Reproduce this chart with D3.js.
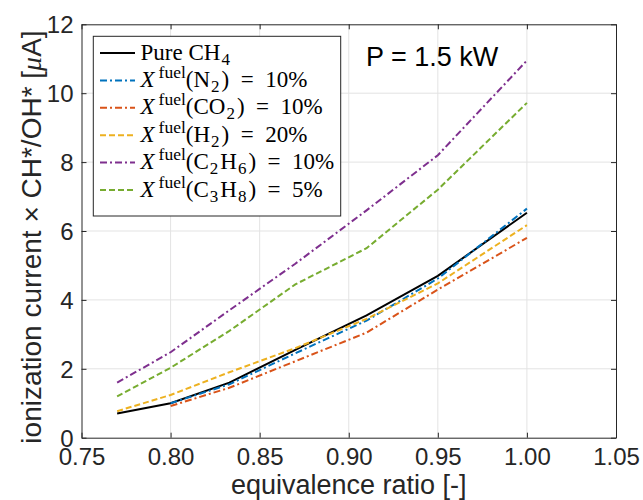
<!DOCTYPE html>
<html><head><meta charset="utf-8">
<script src="https://cdn.jsdelivr.net/npm/d3@7"></script>
<style>body{margin:0;background:#fff;} svg{display:block;}</style>
</head><body>
<svg id="c" width="643" height="500"></svg>
<script>
const xPhi   = [0.77, 0.80, 0.833, 0.87, 0.91, 0.95, 1.00];
const pureCH4 = [0.70, 1.00, 1.60, 2.55, 3.55, 4.70, 6.53];
const xN2    = [null, 1.00, 1.55, 2.45, 3.40, 4.62, 6.65];
const xCO2   = [null, 0.92, 1.45, 2.22, 3.05, 4.30, 5.80];
const xH2    = [0.77, 1.24, 1.90, 2.60, 3.45, 4.48, 6.17];
const xC2H6  = [1.60, 2.48, 3.70, 5.05, 6.60, 8.20, 10.95];
const xC3H8  = [1.20, 2.03, 3.10, 4.45, 5.50, 7.20, 9.72];
const xTicks = [0.75, 0.80, 0.85, 0.90, 0.95, 1.00, 1.05];
const yTicks = [0, 2, 4, 6, 8, 10, 12];
const seriesNames = ["pure", "n2", "co2", "h2", "c2h6", "c3h8"];
const seriesValues = [pureCH4, xN2, xCO2, xH2, xC2H6, xC3H8];
const seriesColors = ["#000000", "#0072BD", "#D95319", "#EDB120", "#7E2F8E", "#77AC30"];
const seriesDash = ["none", "7,3,2,3", "7,3,2,3", "6,3", "7,3,2,3", "6,3"];
const EQ = "\u2002=\u2002";
const legendLabels = [
  [{t:"Pure CH"},{t:"4",sub:true}],
  [{t:"X",it:true},{t:"fuel",sup:true},{t:"(N"},{t:"2",sub:true},{t:")" + EQ + "10%"}],
  [{t:"X",it:true},{t:"fuel",sup:true},{t:"(CO"},{t:"2",sub:true},{t:")" + EQ + "10%"}],
  [{t:"X",it:true},{t:"fuel",sup:true},{t:"(H"},{t:"2",sub:true},{t:")" + EQ + "20%"}],
  [{t:"X",it:true},{t:"fuel",sup:true},{t:"(C"},{t:"2",sub:true},{t:"H"},{t:"6",sub:true},{t:")" + EQ + "10%"}],
  [{t:"X",it:true},{t:"fuel",sup:true},{t:"(C"},{t:"3",sub:true},{t:"H"},{t:"8",sub:true},{t:")" + EQ + "5%"}]
];

const svg = d3.select("#c");
const L = 81.5, R = 616, T = 24.3, B = 437.7;
const x = d3.scaleLinear().domain([0.75, 1.05]).range([L, R]);
const y = d3.scaleLinear().domain([0, 12]).range([B, T]);
const axisColor = "#262626";
const sans = "Liberation Sans, Arial, Helvetica, sans-serif";
const serif = "Liberation Serif, Times New Roman, serif";

// grid
const g = svg.append("g");
g.selectAll(".gx").data(xTicks.slice(1, -1)).enter().append("line")
  .attr("x1", d => x(d)).attr("x2", d => x(d)).attr("y1", T).attr("y2", B)
  .attr("stroke", "#e3e3e3").attr("stroke-width", 1);
g.selectAll(".gy").data(yTicks.slice(1, -1)).enter().append("line")
  .attr("y1", d => y(d)).attr("y2", d => y(d)).attr("x1", L).attr("x2", R)
  .attr("stroke", "#e3e3e3").attr("stroke-width", 1);

// axes
const xAxis = d3.axisBottom(x).tickValues(xTicks).tickFormat(d3.format(".2f")).tickSizeInner(-5).tickSizeOuter(0).tickPadding(10);
const yAxis = d3.axisLeft(y).tickValues(yTicks).tickFormat(d3.format("d")).tickSizeInner(-5).tickSizeOuter(0).tickPadding(8);
const xa = svg.append("g").attr("transform", `translate(0,${B})`).call(xAxis);
const ya = svg.append("g").attr("transform", `translate(${L},0)`).call(yAxis);
const xt = svg.append("g").attr("transform", `translate(0,${T})`).call(d3.axisTop(x).tickValues(xTicks).tickFormat("").tickSizeInner(-5).tickSizeOuter(0));
const yr = svg.append("g").attr("transform", `translate(${R},0)`).call(d3.axisRight(y).tickValues(yTicks).tickFormat("").tickSizeInner(-5).tickSizeOuter(0));
[xa, ya, xt, yr].forEach(a => {
  a.select(".domain").attr("stroke", axisColor).attr("stroke-width", 1);
  a.selectAll(".tick line").attr("stroke", axisColor);
  a.selectAll("text").attr("fill", axisColor).style("font-family", sans).style("font-size", "24px");
});
ya.selectAll("text").attr("dy", "0.35em");

// lines
const line = d3.line().defined(d => d[1] !== null).x(d => x(d[0])).y(d => y(d[1]));
seriesValues.forEach((vals, i) => {
  const pts = xPhi.map((p, j) => [p, vals[j]]);
  svg.append("path").datum(pts).attr("class", "s-" + seriesNames[i])
    .attr("fill", "none").attr("stroke", seriesColors[i]).attr("stroke-width", 2)
    .attr("stroke-dasharray", seriesDash[i] === "none" ? null : seriesDash[i])
    .attr("d", line);
});

// legend
const lg = svg.append("g");
lg.append("rect").attr("x", 93.3).attr("y", 36.3).attr("width", 247.4).attr("height", 179.7)
  .attr("fill", "#fff").attr("stroke", axisColor).attr("stroke-width", 1);
legendLabels.forEach((segs, i) => {
  const cy = 53 + i * 27.4;
  lg.append("line").attr("x1", 100).attr("x2", 135).attr("y1", cy).attr("y2", cy)
    .attr("stroke", seriesColors[i]).attr("stroke-width", 2)
    .attr("stroke-dasharray", seriesDash[i] === "none" ? null : seriesDash[i]);
  const t = lg.append("text").attr("x", 140.5).attr("y", cy + 6.5)
    .style("font-family", serif).style("font-size", "23px").attr("fill", "#000");
  let shift = 0, prevSub = false;
  segs.forEach(s => {
    const ts = t.append("tspan").text(s.t);
    let target = 0;
    if (s.sup) { target = -9; ts.style("font-size", "17.5px").attr("dx", 4); }
    else if (s.sub) { target = 5; ts.style("font-size", "17px").attr("dx", 1); }
    else if (prevSub) { ts.attr("dx", 2); }
    if (s.it) ts.style("font-style", "italic");
    if (target !== shift) { ts.attr("dy", target - shift); shift = target; }
    prevSub = !!s.sub;
  });
});

// annotation
svg.append("text").attr("x", 366).attr("y", 65.5).text("P = 1.5 kW")
  .style("font-family", sans).style("font-size", "27px").attr("fill", "#000");

// axis labels
svg.append("text").attr("x", (L + R) / 2).attr("y", 494).attr("text-anchor", "middle")
  .text("equivalence ratio [-]").style("font-family", sans).style("font-size", "27px").attr("fill", axisColor);
const yl = svg.append("text").attr("transform", `translate(41,237) rotate(-90)`).attr("text-anchor", "middle")
  .style("font-family", sans).style("font-size", "28px").attr("fill", axisColor);
yl.append("tspan").text("ionization current × CH*/OH* [");
yl.append("tspan").text("μ").style("font-family", serif).style("font-style", "italic");
yl.append("tspan").text("A]");
</script>
</body></html>
